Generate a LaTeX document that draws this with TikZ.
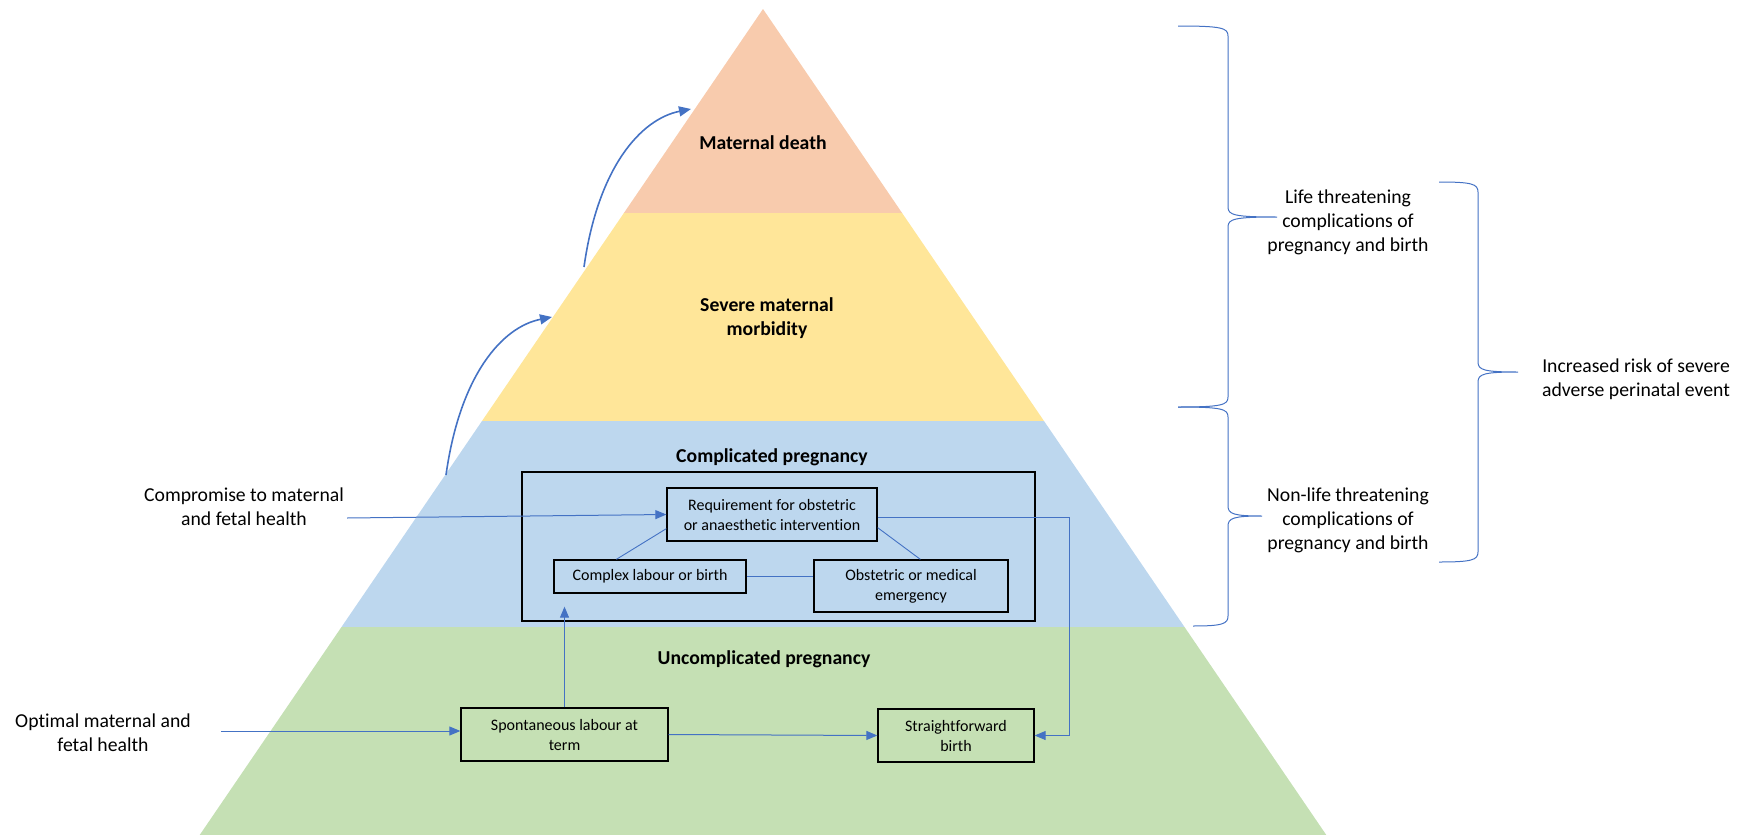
\documentclass[tikz,border=0pt]{standalone}
\usepackage{fontspec}
\setmainfont{Carlito}[Ligatures=NoCommon]
\usetikzlibrary{arrows.meta,calc}
\definecolor{peach}{HTML}{F8CBAD}
\definecolor{butter}{HTML}{FFE699}
\definecolor{skyband}{HTML}{BDD7EE}
\definecolor{sage}{HTML}{C5E0B4}
\definecolor{linkblue}{HTML}{4472C4}

% Office-style curly brace: top tip, vertical stem, middle spike, bottom tip
\newcommand\drawbrace[7]{% xtop, xstem, xmid, y0, ymid, y1, xbottom
  \draw[brace] (#1,#4) .. controls (#2-6,#4) and (#2,#4+2) .. (#2,#4+10)
    -- (#2,#5-10) .. controls (#2,#5-2) and (#2+6,#5) .. (#3,#5)
    .. controls (#2+6,#5) and (#2,#5+2) .. (#2,#5+10)
    -- (#2,#6-10) .. controls (#2,#6-2) and (#2-6,#6) .. (#7,#6);}

\begin{document}
\begin{tikzpicture}[x=1pt,y=-1pt,
  big/.style={font=\fontsize{19.7}{24}\selectfont, align=center, inner sep=0pt},
  tier/.style={font=\fontsize{19.7}{24}\selectfont\bfseries, align=center, inner sep=0pt},
  stagebox/.style={draw=black, line width=1.3pt, align=center, inner sep=0pt,
    font=\fontsize{16}{20}\selectfont},
  frame/.style={draw=black, line width=1.3pt, inner sep=0pt},
  flow/.style={draw=linkblue, line width=1pt, -{Triangle[length=11pt,width=9pt]}},
  tie/.style={draw=linkblue, line width=0.9pt},
  rise/.style={draw=linkblue, line width=1.6pt, -{Triangle[length=12pt,width=10pt]}},
  brace/.style={draw=linkblue, line width=1pt}]

\useasboundingbox (0,0) rectangle (1746,835);

% pyramid tiers
\fill[peach]  (763,9) -- (902.1,213) -- (623.9,213) -- cycle;
\fill[butter] (623.9,213) -- (902.1,213) -- (1044,421) -- (482,421) -- cycle;
\fill[skyband] (482,421) -- (1044,421) -- (1184.5,627) -- (341.5,627) -- cycle;
\fill[sage] (341.5,627) -- (1184.5,627) -- (1326.3,835) -- (199.7,835) -- cycle;

% tier titles
\node[tier] (md) at (763,143) {Maternal death};
\node[tier] (smm) at (767,318) {Severe maternal\\morbidity};
\node[tier] (cp) at (772,457) {Complicated pregnancy};
\node[tier] (up) at (764,659) {Uncomplicated pregnancy};

% complicated pregnancy frame and its boxes
\node[frame, minimum width=513, minimum height=149] (cbox) at (778.5,546.5) {};
\node[stagebox, minimum width=210, minimum height=53] (req) at (772,514.5)
  {Requirement for obstetric\\or anaesthetic intervention};
\node[stagebox, minimum width=192, minimum height=33] (clb) at (650,576.5)
  {Complex labour or birth};
\node[stagebox, minimum width=194, minimum height=52] (ome) at (911,586)
  {Obstetric or medical\\emergency};

% uncomplicated pregnancy boxes
\node[stagebox, minimum width=207, minimum height=53] (slt) at (564.5,734.5)
  {Spontaneous labour at\\term};
\node[stagebox, minimum width=156, minimum height=53] (sfb) at (956,735.5)
  {Straightforward\\birth};

% side labels
\node[big] (comp) at (244,507) {Compromise to maternal\\and fetal health};
\node[big] (opt) at (103,733) {Optimal maternal and\\fetal health};
\node[big] (life) at (1348,222) {Life threatening\\complications of\\pregnancy and birth};
\node[big] (nonlife) at (1348,520) {Non-life threatening\\complications of\\pregnancy and birth};
\node[big] (risk) at (1636,379) {Increased risk of severe\\adverse perinatal event};

% links inside the complicated frame
\draw[tie] ($(req.south west)+(0,-13)$) -- ($(clb.north west)+(63,0)$);
\draw[tie] ($(req.south east)+(0,-14)$) -- ($(ome.north west)+(107,0)$);
\draw[tie] (clb.east) -- (clb.east -| ome.west);

% entry arrows
\coordinate (compS) at ($(comp.east)+(3,11)$);
\draw[flow] (compS) -- (req.west);
\coordinate (optS) at ($(opt.east)+(30,-2)$);
\draw[flow] (optS) -- (optS -| slt.west);
\draw[flow] (slt.east) -- (sfb.west);
\coordinate (upTip) at ($(slt.north |- clb.south)+(0,13)$);
\draw[flow] (slt.north) -- (upTip);
\coordinate (bendx) at (1069,0);
\draw[flow] ($(req.east)+(0,3)$) -- ($(req.east -| bendx)+(0,3)$) |- (sfb.east);

% escalation arrows along the pyramid flank
\coordinate (r1a) at (446,475); \coordinate (r1b) at (552,317);
\draw[rise] (r1a) .. controls +(14,-100) and +(-50,10) .. (r1b);
\coordinate (r2a) at (584,267); \coordinate (r2b) at (691,109);
\draw[rise] (r2a) .. controls +(14,-100) and +(-50,10) .. (r2b);

% braces
\drawbrace{1178}{1228}{1277}{26}{217}{407}{1178}
\drawbrace{1178}{1228}{1262}{407}{516}{626}{1193}
\drawbrace{1439}{1478}{1518}{182}{372}{562}{1439}
\end{tikzpicture}
\end{document}
